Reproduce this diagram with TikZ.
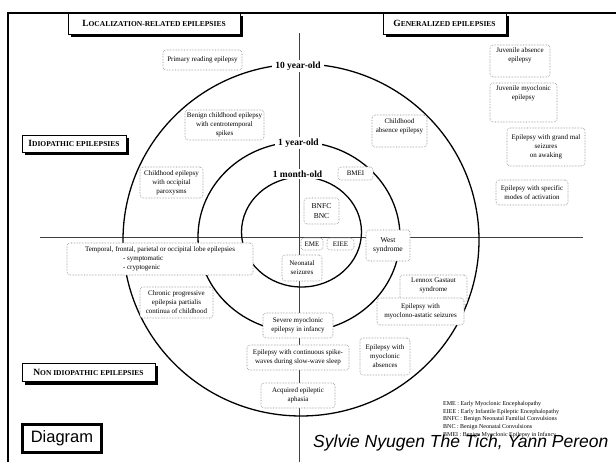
\documentclass[tikz,border=0pt]{standalone}
\usepackage{fontspec}
\setmainfont{Liberation Serif}
\newfontfamily\arialfont{Liberation Sans}
\newcommand\myhdr[2]{{\fontsize{9.5}{11}\selectfont #1}{\fontsize{7.5}{9}\selectfont #2}}
\begin{document}
\begin{tikzpicture}[x=1pt,y=-1pt,
 ebox/.style={draw=black!50, densely dotted, line width=0.55pt, rounded corners=3pt, fill=white, inner sep=0pt, align=center, font=\fontsize{7}{9}\selectfont},
 etext/.style={inner sep=0pt, align=center, font=\fontsize{7}{9}\selectfont},
 ringlbl/.style={fill=white, inner xsep=3pt, inner ysep=1.5pt, font=\fontsize{9.5}{11}\selectfont\bfseries},
 hbox/.style={draw=black, line width=0.8pt, fill=white, inner sep=0pt, font=\bfseries},
 hshadow/.style={fill=black},
 ring/.style={line width=1.3pt},
 axisline/.style={line width=0.8pt, black!75},
 legend/.style={inner sep=0pt, align=left, anchor=north west, font=\fontsize{6}{7.7}\selectfont},
]
\useasboundingbox (0,0) rectangle (616,462);
% frame
\draw[line width=2.2pt] (8,470) -- (8,13) -- (620,13);
% axes
\coordinate (vt) at (299,33);
\coordinate (vb) at (299,462);
\coordinate (hl) at (40,237);
\coordinate (hr) at (583,237);
\draw[axisline] (vt) -- (vb);
\draw[axisline] (hl) -- (hr);
% rings
\draw[ring] (301,240) ellipse [x radius=178pt, y radius=176pt];
\draw[ring] (299,237) ellipse [x radius=101pt, y radius=95pt];
\draw[ring] (301.5,232) ellipse [x radius=60pt, y radius=55pt];
\node[ringlbl] (r10) at (298,66) {10 year-old};
\node[ringlbl] (r1y) at (298.5,143) {1 year-old};
\node[ringlbl] (r1m) at (297.5,174) {1 month-old};
% header boxes with shadows
\fill[hshadow] (71,16) rectangle (243,37.5);
\node[hbox, minimum width=172pt, minimum height=21pt] (loc) at (154,23.5) {\myhdr{L}{OCALIZATION-RELATED EPILEPSIES}};
\fill[hshadow] (386,16) rectangle (509,37.5);
\node[hbox, minimum width=123pt, minimum height=21pt] (gen) at (444.5,23.5) {\myhdr{G}{ENERALIZED EPILEPSIES}};
\fill[hshadow] (25,138) rectangle (129,155.5);
\node[hbox, minimum width=104pt, minimum height=17pt] (idio) at (74,143.5) {\myhdr{I}{DIOPATHIC EPILEPSIES}};
\fill[hshadow] (25,366) rectangle (158,384.5);
\node[hbox, minimum width=133pt, minimum height=18pt] (nonidio) at (88.5,372) {\myhdr{N}{ON IDIOPATHIC EPILEPSIES}};
% syndrome boxes
\node[ebox, minimum width=79pt, minimum height=20pt] (prim) at (202.5,60) {Primary reading epilepsy};
\node[ebox, minimum width=79pt, minimum height=30pt] (benign) at (224.5,125) {Benign childhood epilepsy\\with centrotemporal\\spikes};
\node[ebox, minimum width=63pt, minimum height=31pt] (occip) at (171.5,182.5) {Childhood epilepsy\\with occipital\\paroxysms};
\node[ebox, minimum width=55pt, minimum height=32pt] (childabs) at (399.5,131) {};
\node[etext, anchor=north] (childabsT) at ([yshift=-4pt]childabs.north) {Childhood\\absence epilepsy};
\node[ebox, minimum width=35pt, minimum height=13pt] (bmei) at (355.5,173.5) {BMEI};
\node[ebox, minimum width=35pt, minimum height=26pt, font=\fontsize{7.5}{9.5}\selectfont] (bnfc) at (321.5,211) {BNFC\\BNC};
\node[ebox, minimum width=22pt, minimum height=12pt] (eme) at (312,244) {EME};
\node[ebox, minimum width=27pt, minimum height=12pt] (eiee) at (340.5,244) {EIEE};
\node[ebox, minimum width=44pt, minimum height=31pt, font=\fontsize{7.5}{9.5}\selectfont] (west) at (388,245.5) {West\\syndrome};
\node[ebox, minimum width=40pt, minimum height=26pt] (neon) at (302,268) {Neonatal\\seizures};
\node[ebox, minimum width=186pt, minimum height=32pt, align=left] (temp) at (160,259) {Temporal, frontal, parietal or occipital lobe epilepsies\\\hspace*{38pt}- symptomatic\\\hspace*{38pt}- cryptogenic};
\node[ebox, minimum width=73pt, minimum height=31pt] (chronic) at (176.5,302.5) {Chronic progressive\\epilepsia partialis\\continua of childhood};
\node[ebox, minimum width=70pt, minimum height=25pt] (severe) at (298,325.5) {Severe myoclonic\\epilepsy in infancy};
\node[ebox, minimum width=102pt, minimum height=25pt] (cswss) at (298,357.5) {Epilepsy with continuous spike-\\waves during slow-wave sleep};
\node[ebox, minimum width=74pt, minimum height=25pt] (acq) at (298,395.5) {Acquired epileptic\\aphasia};
\node[ebox, minimum width=50pt, minimum height=37pt] (myoabs) at (385,356.5) {Epilepsy with\\myoclonic\\absences};
\node[ebox, minimum width=67pt, minimum height=30pt] (lennox) at (433.5,290) {};
\node[etext, anchor=north] (lennoxT) at ([yshift=-3pt]lennox.north) {Lennox Gastaut\\syndrome};
\node[ebox, minimum width=87pt, minimum height=27pt] (myoast) at (420.5,311.5) {Epilepsy with\\myoclono-astatic seizures};
\node[ebox, minimum width=60pt, minimum height=32pt] (juvabs) at (520,61) {};
\node[etext, anchor=north] (juvabsT) at ([yshift=-3pt]juvabs.north) {Juvenile absence\\epilepsy};
\node[ebox, minimum width=67pt, minimum height=39pt] (juvmyo) at (523.5,102.5) {};
\node[etext, anchor=north] (juvmyoT) at ([yshift=-3pt]juvmyo.north) {Juvenile myoclonic\\epilepsy};
\node[ebox, minimum width=78pt, minimum height=38pt] (grand) at (546,147) {Epilepsy with grand mal\\seizures\\on awaking};
\node[ebox, minimum width=72pt, minimum height=25pt] (spec) at (532,192.5) {Epilepsy with specific\\modes of activation};
% legend
\node[legend] (leg) at (443,401) {EME : Early Myoclonic Encephalopathy\\EIEE : Early Infantile Epileptic Encephalopathy\\BNFC : Benign Neonatal Familial Convulsions\\BNC : Benign Neonatal Convulsions\\BMEI : Benign Myoclonic Epilepsy in Infancy};
% diagram tag and authors
\node[draw=black, line width=3pt, fill=white, inner sep=0pt, minimum width=79pt, minimum height=28pt, font=\arialfont\fontsize{16.5}{18}\selectfont] (diag) at (62,438.5) {Diagram};
\node[anchor=base west, inner sep=0pt, font=\arialfont\itshape\fontsize{17.5}{19}\selectfont] (auth) at (313,447) {Sylvie Nyugen The Tich, Yann Pereon};
\end{tikzpicture}
\end{document}
